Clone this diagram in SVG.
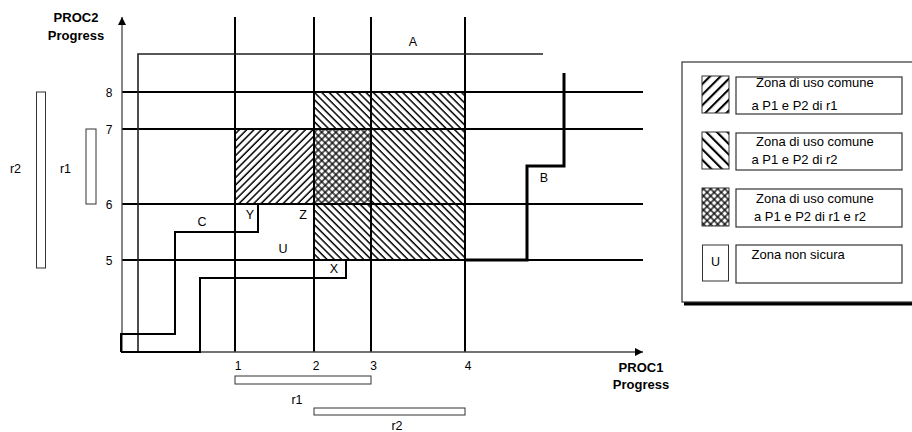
<svg xmlns="http://www.w3.org/2000/svg" width="912" height="432" viewBox="0 0 912 432">
<style>
text{font-family:"Liberation Sans",Arial,sans-serif;font-size:12.5px;fill:#000}
.b{font-weight:bold;font-size:13px}
.c{text-anchor:middle}
.lg{font-size:13px}
.grid{stroke:#000;stroke-width:2;fill:none}
.axis{stroke:#444;stroke-width:1.3;fill:none}
.path{stroke:#000;stroke-width:2;fill:none}
.thick{stroke:#000;stroke-width:3;fill:none}
.bar{fill:#fff;stroke:#333;stroke-width:1}
.box{fill:#fff;stroke:#333;stroke-width:1.2}
</style>
<defs>
<pattern id="p1" width="5.2" height="5.2" patternUnits="userSpaceOnUse" patternTransform="rotate(45)"><line x1="1" y1="0" x2="1" y2="5.2" stroke="#000" stroke-width="1.5"/></pattern>
<pattern id="p2" width="5.2" height="5.2" patternUnits="userSpaceOnUse" patternTransform="rotate(-45)"><line x1="1" y1="0" x2="1" y2="5.2" stroke="#000" stroke-width="1.5"/></pattern>
<pattern id="p3" width="5" height="5" patternUnits="userSpaceOnUse" patternTransform="rotate(45)"><line x1="1" y1="0" x2="1" y2="5" stroke="#000" stroke-width="1.3"/><line x1="0" y1="1" x2="5" y2="1" stroke="#000" stroke-width="1.3"/></pattern>
<pattern id="l1" width="7.5" height="7.5" patternUnits="userSpaceOnUse" patternTransform="rotate(45)"><line x1="1" y1="0" x2="1" y2="7.5" stroke="#000" stroke-width="2.2"/></pattern>
<pattern id="l2" width="7.5" height="7.5" patternUnits="userSpaceOnUse" patternTransform="rotate(-45)"><line x1="1" y1="0" x2="1" y2="7.5" stroke="#000" stroke-width="2.2"/></pattern>
<marker id="arr" viewBox="0 0 10 10" refX="10" refY="5" markerWidth="8" markerHeight="8" markerUnits="userSpaceOnUse" orient="auto"><path d="M0,0 L10,5 L0,10 Z" fill="#000"/></marker>
</defs>

<g id="zones">
<rect x="235" y="129" width="136" height="75" fill="url(#p1)"/>
<rect x="314" y="92" width="151" height="168" fill="url(#p2)"/>
<rect x="314" y="129" width="57" height="75" fill="#fff"/>
<rect x="314" y="129" width="57" height="75" fill="url(#p3)"/>
</g>

<g id="grid">
<line class="grid" x1="235" y1="17" x2="235" y2="352"/>
<line class="grid" x1="314" y1="17" x2="314" y2="352"/>
<line class="grid" x1="371" y1="17" x2="371" y2="352"/>
<line class="grid" x1="465" y1="17" x2="465" y2="352"/>
<line class="grid" x1="122" y1="92" x2="643" y2="92"/>
<line class="grid" x1="122" y1="129" x2="643" y2="129"/>
<line class="grid" x1="122" y1="204" x2="643" y2="204"/>
<line class="grid" x1="122" y1="260" x2="643" y2="260"/>
</g>

<g id="axes">
<line class="axis" x1="122" y1="352" x2="122" y2="17" marker-end="url(#arr)"/>
<line class="axis" x1="121" y1="352" x2="643" y2="352" marker-end="url(#arr)"/>
<text class="b c" x="76" y="22">PROC2</text>
<text class="b c" x="76" y="40">Progress</text>
<text class="b c" x="641" y="372">PROC1</text>
<text class="b c" x="641" y="389">Progress</text>
<text class="c" x="109" y="96.5" style="font-size:12px">8</text>
<text class="c" x="109" y="133.5" style="font-size:12px">7</text>
<text class="c" x="109" y="208.5" style="font-size:12px">6</text>
<text class="c" x="109" y="264.5" style="font-size:12px">5</text>
<text class="c" x="238" y="370" style="font-size:12px">1</text>
<text class="c" x="316" y="370" style="font-size:12px">2</text>
<text class="c" x="373.5" y="370" style="font-size:12px">3</text>
<text class="c" x="468" y="370" style="font-size:12px">4</text>
</g>

<g id="connectors">
<path id="pathA" d="M138,352 V54 H543" stroke="#222" stroke-width="1.6" fill="none"/>
<path id="pathB" class="thick" d="M465,260 H527 V166 H564 V73"/>
<path id="pathC" class="path" d="M121,352 V334 H175 V232 H258 V204"/>
<path id="pathX" class="path" d="M121,352 H200 V278 H346 V260"/>
</g>

<g id="labels">
<text class="c" x="413" y="45.5">A</text>
<text class="c" x="544" y="181.5">B</text>
<text class="c" x="202" y="225.5">C</text>
<text class="c" x="250" y="219">Y</text>
<text class="c" x="303" y="219">Z</text>
<text class="c" x="283" y="252.5">U</text>
<text class="c" x="334" y="272.5">X</text>
</g>

<g id="r1-h">
<rect class="bar" x="235" y="376" width="136" height="8"/>
<text class="c" x="297" y="404">r1</text>
</g>
<g id="r2-h">
<rect class="bar" x="314" y="408" width="151" height="7"/>
<text class="c" x="397" y="430">r2</text>
</g>
<g id="r2-v">
<rect class="bar" x="36.5" y="92" width="9" height="176"/>
<text class="c" x="15.5" y="173">r2</text>
</g>
<g id="r1-v">
<rect class="bar" x="86" y="129" width="10" height="75"/>
<text class="c" x="65.5" y="173">r1</text>
</g>

<g id="legend">
<rect x="684" y="302" width="230" height="3.5" fill="#000"/>
<rect x="682" y="62" width="240" height="240" fill="#fff" stroke="#333" stroke-width="1.2"/>
<g id="leg1">
<rect x="702" y="76" width="27" height="37" fill="url(#l1)" stroke="#333" stroke-width="1"/>
<rect class="box" x="736" y="77" width="166" height="37"/>
<text class="lg" x="756" y="87">Zona di uso comune</text>
<text class="lg" x="751.5" y="110">a P1 e P2 di r1</text>
</g>
<g id="leg2">
<rect x="702" y="132" width="27" height="37" fill="url(#l2)" stroke="#333" stroke-width="1"/>
<rect class="box" x="736" y="133" width="166" height="37"/>
<text class="lg" x="756" y="146">Zona di uso comune</text>
<text class="lg" x="751.5" y="164">a P1 e P2 di r2</text>
</g>
<g id="leg3">
<rect x="702" y="188" width="27" height="38" fill="url(#p3)" stroke="#333" stroke-width="1"/>
<rect class="box" x="736" y="189" width="166" height="38"/>
<text class="lg" x="756" y="203">Zona di uso comune</text>
<text class="lg" x="754" y="221">a P1 e P2 di r1 e r2</text>
</g>
<g id="leg4">
<rect x="702.5" y="245" width="26" height="36" fill="#fff" stroke="#333" stroke-width="1"/>
<text class="c" x="715.5" y="266">U</text>
<rect class="box" x="736" y="245" width="166" height="38"/>
<text class="lg" x="751.5" y="258.5">Zona non sicura</text>
</g>
</g>
</svg>
